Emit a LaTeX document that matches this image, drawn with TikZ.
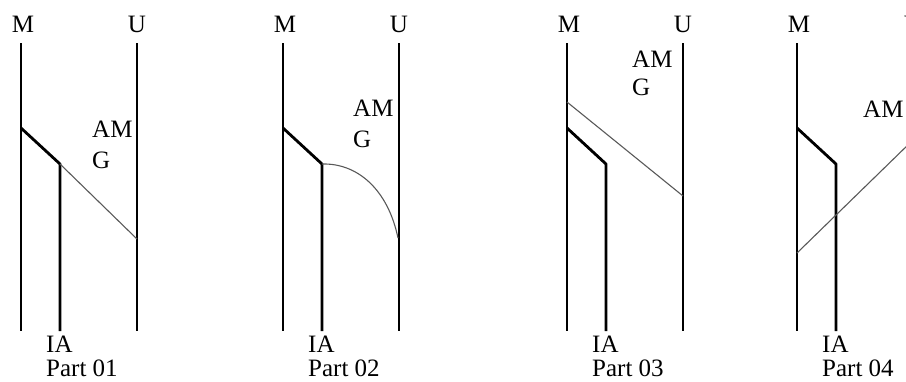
\documentclass[tikz,border=0pt]{standalone}
\usepackage{fontspec}
\setmainfont{Liberation Serif}

\begin{document}
\begin{tikzpicture}[
      x=1pt, y=-1pt,
      every node/.style={inner sep=0pt, font=\fontsize{25}{24}\selectfont},
      rail/.style={line width=2pt},
      tie/.style={line width=2.8pt, line join=round},
      amgline/.style={line width=1.1pt, black!65},
      amglabel/.style={anchor=base west, align=left, font=\fontsize{25}{31}\selectfont}
    ]
      \useasboundingbox (0,0) rectangle (906,381);
      \clip (0,0) rectangle (906,381);
      \foreach \s/\n in {0/01, 262/02, 546/03, 776/04}{
        \begin{scope}[xshift=\s pt]
          \coordinate (mtop\n) at (21,43);
          \coordinate (mbot\n) at (21,331);
          \coordinate (utop\n) at (137,43);
          \coordinate (ubot\n) at (137,331);
          \coordinate (tie\n) at (21,128);
          \coordinate (iatop\n) at (60,164);
          \coordinate (iabot\n) at (60,331);
          \node (mlab\n) at (23,24) {M};
          \node (ulab\n) at (137,24) {U};
          \node[anchor=base west, align=left] (ialab\n) at (46,376) {IA\\Part \n};
          \draw[rail] (mtop\n) -- (mbot\n);
          \draw[rail] (utop\n) -- (ubot\n);
          \draw[tie] (tie\n) -- (iatop\n) -- (iabot\n);
        \end{scope}
      }
      \coordinate (amgend01) at (137,239);
      \coordinate (amgend02) at (398,238);
      \coordinate (amgstart03) at (567,102);
      \coordinate (amgend03) at (683,196);
      \coordinate (amgstart04) at (797,253);
      \coordinate (amgend04) at (913,140);
      \draw[amgline] (iatop01) -- (amgend01);
      \draw[amgline] (iatop02) .. controls (358,163) and (388,190) .. (amgend02);
      \draw[amgline] (amgstart03) -- (amgend03);
      \draw[amgline] (amgstart04) -- (amgend04);
      \node[amglabel] (amg01) at (92,168) {AM\\G};
      \node[amglabel] (amg02) at (353,147) {AM\\G};
      \node[amglabel, font=\fontsize{25}{28}\selectfont] (amg03) at (632,95) {AM\\G};
      \node[amglabel] (amg04) at (863,117) {AM};
    \end{tikzpicture}
\end{document}
